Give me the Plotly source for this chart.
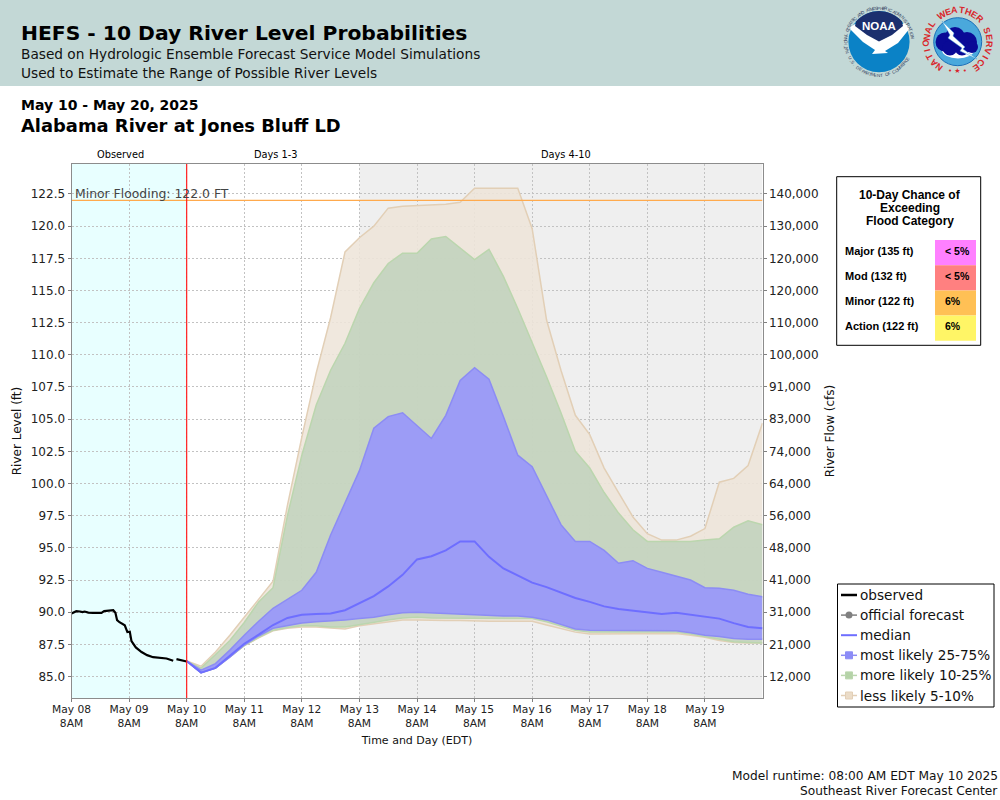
"""HEFS river level probabilities - Alabama River at Jones Bluff LD."""

import numpy as np
import pandas as pd
import plotly.graph_objects as go

# ------------------------------------------------------------------
# Data (feet)
# ------------------------------------------------------------------
OBS_HOURS = [0, 1, 2, 3.5, 4.6, 5.5, 7, 9, 12.5, 13.6, 15.3, 17.4, 18.3, 19, 20, 22.2, 23.3, 24.3,
             25, 26.8, 29.2, 31.5, 34, 36.8, 39.6, 42.4, 43, 43.75, 45.4, 48]
OBS_FT = [89.9, 90.0, 90.08, 90.05, 90.0, 90.05, 89.97, 89.95, 89.95, 90.08, 90.13, 90.15, 89.95, 89.38,
          89.22, 88.98, 88.45, 88.48, 87.75, 87.26, 86.9, 86.66, 86.5, 86.45, 86.4, 86.22, None,
          86.35, 86.3, 86.17]

MEDIAN = [86.2, 85.3, 85.67, 86.58, 87.55, 88.25, 89.0, 89.55, 89.8, 89.85, 89.9, 90.15, 90.7, 91.25,
          92.0, 92.9, 94.1, 94.35, 94.8, 95.5, 95.5, 94.3, 93.4, 92.85, 92.3, 91.95, 91.5, 91.1, 90.8,
          90.45, 90.25, 90.1, 90.0, 89.85, 89.95, 89.8, 89.65, 89.5, 89.15, 88.85, 88.75]
P75 = [86.2, 85.5, 86.0, 87.05, 88.2, 89.3, 90.3, 91.0, 91.7, 93.1, 96.0, 98.5, 101.0, 104.3, 105.2,
       105.5, 104.5, 103.5, 105.3, 108.0, 109.0, 108.1, 105.2, 102.2, 101.3, 99.1, 96.8, 95.5, 95.5,
       94.8, 93.8, 94.0, 93.4, 93.1, 92.8, 92.5, 91.9, 91.85, 91.7, 91.4, 91.2]
P25 = [86.2, 85.3, 85.65, 86.5, 87.45, 88.15, 88.75, 88.95, 89.15, 89.25, 89.3, 89.4, 89.5, 89.6, 89.8,
       89.95, 90.0, 89.95, 89.85, 89.8, 89.75, 89.7, 89.7, 89.7, 89.6, 89.4, 89.05, 88.7, 88.6, 88.6,
       88.6, 88.6, 88.6, 88.55, 88.55, 88.4, 88.2, 88.1, 87.95, 87.9, 87.9]
P90 = [86.2, 85.65, 86.7, 87.8, 89.2, 90.8, 91.9, 97.5, 102.2, 106.1, 108.8, 110.9, 113.6, 115.6, 117.1,
       117.9, 117.9, 119.0, 119.2, 118.3, 117.4, 118.2, 116.1, 113.6, 111.0, 108.3, 105.5, 102.5, 101.2,
       99.3, 97.7, 96.4, 95.5, 95.5, 95.5, 95.5, 95.6, 95.7, 96.6, 97.1, 96.8]
P10 = [86.2, 85.3, 85.65, 86.5, 87.4, 88.05, 88.6, 88.8, 88.95, 88.95, 88.85, 88.85, 89.05, 89.2, 89.4,
       89.55, 89.6, 89.55, 89.55, 89.55, 89.5, 89.5, 89.5, 89.5, 89.5, 89.25, 88.9, 88.6, 88.45, 88.45,
       88.45, 88.45, 88.45, 88.45, 88.45, 88.3, 88.1, 87.85, 87.7, 87.65, 87.6]
P95 = [86.2, 85.8, 86.9, 88.2, 89.6, 91.0, 92.4, 98.3, 103.6, 108.6, 112.9, 118.0, 119.1, 120.0, 121.4,
       121.55, 121.6, 121.6, 121.7, 121.85, 122.95, 122.95, 122.95, 122.95, 119.8, 112.7, 108.8, 105.3,
       103.8, 101.2, 99.3, 97.4, 96.1, 95.6, 95.6, 95.9, 96.5, 100.1, 100.4, 101.4, 104.7]
P05 = [86.2, 85.3, 85.65, 86.5, 87.4, 88.0, 88.55, 88.75, 88.85, 88.85, 88.75, 88.7, 88.95, 89.1, 89.3,
       89.4, 89.4, 89.35, 89.35, 89.35, 89.3, 89.3, 89.3, 89.3, 89.3, 89.0, 88.7, 88.45, 88.3, 88.3,
       88.3, 88.3, 88.3, 88.35, 88.35, 88.2, 88.05, 87.8, 87.65, 87.6, 87.6]

MINOR_FT = 122.0

LEVEL_TICKS = [85.0, 87.5, 90.0, 92.5, 95.0, 97.5, 100.0, 102.5, 105.0, 107.5, 110.0, 112.5, 115.0, 117.5, 120.0, 122.5]
FLOW_LABELS = ["12,000", "21,000", "31,000", "41,000", "48,000", "56,000", "64,000", "74,000", "83,000",
               "91,000", "100,000", "110,000", "120,000", "120,000", "130,000", "140,000"]
DAY_LABELS = ["May 08", "May 09", "May 10", "May 11", "May 12", "May 13", "May 14", "May 15", "May 16",
              "May 17", "May 18", "May 19"]

CHANCE_ROWS = ["Major (135 ft)", "Mod (132 ft)", "Minor (122 ft)", "Action (122 ft)"]
CHANCE_VALUES = ["< 5%", "< 5%", "6%", "6%"]
CHANCE_COLOURS = ["#FF80FF", "#FF8080", "#FFC055", "#FFF566"]

LEGEND_ROWS = ["observed", "official forecast", "median", "most likely 25-75%", "more likely 10-25%", "less likely 5-10%"]

# ------------------------------------------------------------------
# Colours
# ------------------------------------------------------------------
TAN_FILL = "rgba(238,229,218,0.88)"
TAN_LINE = "#E2CFB6"
GREEN_FILL = "rgba(184,207,183,0.72)"
GREEN_LINE = "#BBD6AE"
BLUE_FILL = "rgba(148,146,255,0.85)"
BLUE_LINE = "#8C8CF4"
MEDIAN_LINE = "#6E6EFF"
GRID = "#C2C2C2"
SANS = "DejaVu Sans"
ARIAL = "Liberation Sans"

OBS_START = pd.Timestamp("2025-05-08 08:00")
FCST_START = pd.Timestamp("2025-05-10 08:00")
END = pd.Timestamp("2025-05-20 08:00")
fcst_times = pd.date_range(FCST_START, END, freq="6h")
obs_times = [OBS_START + pd.Timedelta(hours=h) for h in OBS_HOURS]
day_ticks = [OBS_START + pd.Timedelta(days=i) for i in range(12)]


# The figure has no margins, so paper coordinates map straight to page pixels
def px(x):
    return x / 1000


def py(y):
    return 1 - y / 800


shapes = []
notes = []


def rect(x0, y0, x1, y1, fill="rgba(0,0,0,0)", line=None, width=1):
    shapes.append(dict(type="rect", xref="paper", yref="paper", x0=px(x0), x1=px(x1), y0=py(y0), y1=py(y1),
                       fillcolor=fill, line=dict(color=line or "rgba(0,0,0,0)", width=width if line else 0)))


def segment(x0, y0, x1, y1, colour, width):
    shapes.append(dict(type="line", xref="paper", yref="paper", x0=px(x0), x1=px(x1), y0=py(y0), y1=py(y1),
                       line=dict(color=colour, width=width)))


def disc(cx, cy, rx, ry, fill, line=None, width=1):
    shapes.append(dict(type="circle", xref="paper", yref="paper", x0=px(cx - rx), x1=px(cx + rx),
                       y0=py(cy - ry), y1=py(cy + ry), fillcolor=fill,
                       line=dict(color=line or "rgba(0,0,0,0)", width=width if line else 0)))


def poly(points, fill, line=None, width=1):
    path = "M " + " L ".join(f"{px(x):.5f},{py(y):.5f}" for x, y in points) + " Z"
    shapes.append(dict(type="path", xref="paper", yref="paper", path=path, fillcolor=fill,
                       line=dict(color=line or "rgba(0,0,0,0)", width=width if line else 0)))


def text(x, y, s, size, colour="#000000", family=SANS, bold=False, anchor="left", angle=0):
    notes.append(dict(xref="paper", yref="paper", x=px(x), y=py(y), text=f"<b>{s}</b>" if bold else s,
                      showarrow=False, xanchor=anchor, yanchor="middle", textangle=angle,
                      font=dict(size=size, color=colour, family=family), borderpad=0, borderwidth=0))


def ring_text(cx, cy, radius, s, start, step, size, colour, family=ARIAL, bold=False, flip=False):
    # one annotation per letter, angles clockwise from the top of the circle
    for i, ch in enumerate(s):
        if ch == " ":
            continue
        a = start + i * step
        x = cx + radius * np.sin(np.radians(a))
        y = cy - radius * np.cos(np.radians(a))
        text(x, y, ch, size, colour, family, bold, "center", a - 180 if flip else a)


# ------------------------------------------------------------------
# Page furniture: header band, titles, period labels, footer
# ------------------------------------------------------------------
rect(0, 0, 1000, 86, "#C3D8D6")
text(21, 33, "HEFS - 10 Day River Level Probabilities", 20.3, bold=True)
text(21, 54, "Based on Hydrologic Ensemble Forecast Service Model Simulations", 13.7, "#111111")
text(21, 73, "Used to Estimate the Range of Possible River Levels", 13.7, "#111111")
text(21, 105, "May 10 - May 20, 2025", 14, bold=True)
text(21, 126, "Alabama River at Jones Bluff LD", 17.9, bold=True)
text(120, 154, "Observed", 9.8, anchor="center")
text(276, 154, "Days 1-3", 9.8, anchor="center")
text(566, 154, "Days 4-10", 9.8, anchor="center")
text(998, 776, "Model runtime: 08:00 AM EDT May 10 2025", 12.2, "#111111", anchor="right")
text(998, 791, "Southeast River Forecast Center", 12.2, "#111111", anchor="right")

# Logos
noaa_x, noaa_y = 879, 41.7
disc(noaa_x, noaa_y, 30.6, 30.6, "#0B82C6")
poly([(849, 28), (855, 24), (879, 40), (904, 23), (910, 28), (898, 43), (885, 51), (888, 53), (872, 54), (875, 50), (863, 42)],
     "#FFFFFF")
arc = np.radians(np.linspace(-48, 48, 25))
poly([(noaa_x + 30.6 * np.sin(a), noaa_y - 30.6 * np.cos(a)) for a in arc] +
     [(903, 26), (892, 35), (879, 41.5), (867, 35), (855, 26)], "#1B2F6E")
text(noaa_x, 26, "NOAA", 11.5, "#FFFFFF", ARIAL, True, "center")
ring_text(noaa_x, noaa_y, 33.5, "NATIONAL OCEANIC AND ATMOSPHERIC ADMINISTRATION", -107, 4.1, 4.5, "#33415F")
ring_text(noaa_x, noaa_y, 33.5, "U.S. DEPARTMENT OF COMMERCE", 241, -4.65, 4.5, "#33415F", flip=True)

nws_x, nws_y = 957.7, 41.7
disc(nws_x, nws_y, 24, 24, "#4AA8DC", "#1B6FB8", 1)
disc(958, 50, 16, 8.5, "#FFFFFF")
for cx, cy, r in [(945, 42, 9.5), (955, 37, 10), (967, 42, 10), (972, 47, 6), (950, 48, 7.5), (962, 48, 7.5)]:
    disc(cx, cy, r, r, "#0A0A96")
poly([(942, 21), (954, 33), (953, 36), (965, 47), (963, 49), (977, 59), (960, 51), (962, 48), (948, 38), (950, 35)],
     "#FFFFFF", "#4AA8DC", 0.5)
ring_text(nws_x, nws_y, 31.5, "NATIONAL WEATHER SERVICE", -143, 12.5, 9, "#D9262B", bold=True)
text(nws_x, 71, "• ★ •", 7, "#D9262B", anchor="center")

# Chance table
rect(836.7, 176.7, 980.7, 345.3, "#FFFFFF", "#000000", 1)
for i, line in enumerate(["10-Day Chance of", "Exceeding", "Flood Category"]):
    text(910, 195 + 13 * i, line, 12, family=ARIAL, bold=True, anchor="center")
for i, (label, value, colour) in enumerate(zip(CHANCE_ROWS, CHANCE_VALUES, CHANCE_COLOURS)):
    rect(935, 240 + 25.2 * i, 976, 240 + 25.2 * (i + 1), colour)
    text(845, 251 + 25 * i, label, 11, family=ARIAL, bold=True)
    text(945, 251 + 25 * i, value, 10.5, family=ARIAL, bold=True)

# Key, same styling as the chart marks
rect(837.5, 584, 994, 707, "#FFFFFF", "#000000", 1)
KEY_STYLES = [("#000000", 2.5, None), ("#808080", 1.5, "#808080"), (MEDIAN_LINE, 2, None),
              (BLUE_LINE, 1.5, "#8C8CF8"), (GREEN_LINE, 1.5, "#B5D3A8"), (TAN_LINE, 1.5, "#EBDCC8")]
for i, (label, (colour, width, marker)) in enumerate(zip(LEGEND_ROWS, KEY_STYLES)):
    y = 595 + 20.1 * i
    segment(841, y, 857, y, colour, width)
    if marker and i == 1:
        disc(849, y, 3.5, 3.5, marker)
    elif marker:
        rect(845.5, y - 3.5, 852.5, y + 3.5, marker, colour, 1)
    text(860, y, label, 13.6, "#111111")

# Minor flood label
text(75, 193.5, "Minor Flooding: 122.0 FT", 12.4, "#444444")

# Period backgrounds and the forecast start marker
shapes.append(dict(type="rect", layer="below", xref="x", yref="paper", x0=OBS_START, x1=FCST_START,
                   y0=py(698), y1=py(164), fillcolor="#E8FFFF", line_width=0))
shapes.append(dict(type="rect", layer="below", xref="x", yref="paper", x0=pd.Timestamp("2025-05-13 08:00"), x1=END,
                   y0=py(698), y1=py(164), fillcolor="#EFEFEF", line_width=0))
shapes.append(dict(type="line", layer="above", xref="x", yref="paper", x0=FCST_START, x1=FCST_START,
                   y0=py(698), y1=py(164), line=dict(color="#FF2020", width=1.2)))

# ------------------------------------------------------------------
# Figure
# ------------------------------------------------------------------
fig = go.Figure()


def add_band(upper, lower, fill, line, name):
    fig.add_trace(go.Scatter(x=fcst_times, y=lower, mode="lines", line=dict(color=line, width=1.5),
                             showlegend=False, hoverinfo="skip"))
    fig.add_trace(go.Scatter(x=fcst_times, y=upper, mode="lines", line=dict(color=line, width=1.5),
                             fill="tonexty", fillcolor=fill, name=name, showlegend=False))


add_band(P95, P05, TAN_FILL, TAN_LINE, "less likely 5-10%")
add_band(P90, P10, GREEN_FILL, GREEN_LINE, "more likely 10-25%")
add_band(P75, P25, BLUE_FILL, BLUE_LINE, "most likely 25-75%")

fig.add_trace(go.Scatter(x=fcst_times, y=MEDIAN, mode="lines", name="median",
                         line=dict(color=MEDIAN_LINE, width=2), showlegend=False))
fig.add_trace(go.Scatter(x=obs_times, y=OBS_FT, mode="lines", name="observed",
                         line=dict(color="#000000", width=2.2), showlegend=False))

# Minor flood line lives on the flow axis so that axis gets drawn
fig.add_trace(go.Scatter(x=[OBS_START, END], y=[MINOR_FT, MINOR_FT], yaxis="y2", mode="lines",
                         name="Minor Flooding", line=dict(color="#FFAA4D", width=1.3), showlegend=False))

y_range = [83.33, 124.83]
axis_font = dict(family=SANS, size=12, color="#222222")

fig.update_layout(
    width=1000,
    height=800,
    autosize=False,
    margin=dict(l=0, r=0, t=0, b=0),
    paper_bgcolor="#FFFFFF",
    plot_bgcolor="#FFFFFF",
    showlegend=False,
    shapes=shapes,
    annotations=notes,
    xaxis=dict(
        domain=[px(71.5), px(762.5)],
        type="date",
        automargin=False,
        range=[OBS_START, END],
        tickvals=day_ticks,
        ticktext=[f"{d}<br>8AM" for d in DAY_LABELS],
        tickangle=0,
        ticks="outside",
        ticklen=3,
        ticklabelstandoff=-2,
        tickcolor="#808080",
        tickfont=dict(family=SANS, size=10.7, color="#222222"),
        showgrid=True,
        gridcolor=GRID,
        griddash="2px,2px",
        gridwidth=1,
        showline=True,
        linecolor="#8C8C8C",
        mirror=True,
        title=dict(text="Time and Day (EDT)", font=dict(family=SANS, size=11, color="#111111"), standoff=7),
    ),
    yaxis=dict(
        domain=[py(698), py(164)],
        automargin=False,
        range=y_range,
        tickvals=LEVEL_TICKS,
        ticktext=[f"{v:.1f}" for v in LEVEL_TICKS],
        ticks="outside",
        ticklen=3,
        tickcolor="#808080",
        tickfont=axis_font,
        showgrid=True,
        gridcolor=GRID,
        griddash="2px,2px",
        gridwidth=1,
        zeroline=False,
        showline=True,
        linecolor="#8C8C8C",
        mirror=True,
        title=dict(text="River Level (ft)", font=dict(family=SANS, size=12, color="#111111"), standoff=6),
    ),
    yaxis2=dict(
        domain=[py(698), py(164)],
        automargin=False,
        range=y_range,
        overlaying="y",
        side="right",
        tickvals=LEVEL_TICKS,
        ticktext=FLOW_LABELS,
        ticks="outside",
        ticklen=3,
        tickcolor="#808080",
        tickfont=axis_font,
        showgrid=False,
        zeroline=False,
        title=dict(text="River Flow (cfs)", font=dict(family=SANS, size=12, color="#111111"), standoff=8),
    ),
)

fig.write_html("out.html", config={"displayModeBar": False}, post_script="document.body.style.margin='0';")
